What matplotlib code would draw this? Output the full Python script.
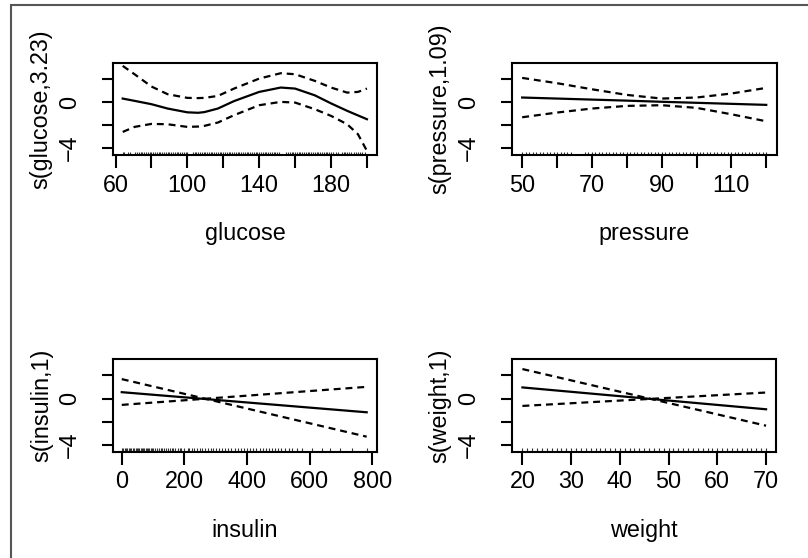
import matplotlib
matplotlib.use("Agg")
import matplotlib.pyplot as plt
from matplotlib.patches import Rectangle

plt.rcParams['font.family'] = ['Liberation Sans', 'DejaVu Sans']
plt.rcParams['lines.scale_dashes'] = False

# smooth of glucose: fit and +/- 2 se bands
glu_x = [64, 70.6, 80, 89, 100, 106, 109.5, 117, 126, 140, 152, 160, 171, 180, 189, 195, 200]
glu_fit = [0.32, 0.12, -0.17, -0.55, -0.88, -0.92, -0.86, -0.55, 0.1, 0.9, 1.28, 1.19, 0.6, -0.1, -0.75, -1.15, -1.48]
glu_hi = [3.17, 2.44, 1.37, 0.7, 0.38, 0.36, 0.38, 0.55, 1.19, 2.06, 2.53, 2.44, 1.86, 1.28, 0.84, 0.9, 1.19]
glu_lo = [-2.59, -2.15, -1.89, -1.92, -2.15, -2.12, -2.06, -1.77, -1.13, -0.26, 0.03, -0.03, -0.61, -1.19, -1.92, -2.79, -4.24]
glu_rug = [64, 65, 67, 68, 71, 72, 73, 74, 75, 76, 77, 78, 79, 80, 81, 82, 83, 84, 85, 86,
           87, 88, 89, 90, 91, 92, 93, 94, 95, 96, 97, 98, 99, 100, 103, 104, 105, 106, 107,
           108, 109, 110, 111, 112, 113, 114, 115, 116, 117, 118, 119, 120, 121, 122, 123,
           124, 125, 126, 127, 128, 129, 130, 131, 132, 133, 134, 135, 136, 137, 138, 139,
           140, 141, 142, 143, 144, 145, 146, 147, 148, 149, 150, 151, 155, 156, 157, 158,
           159, 160, 161, 162, 163, 164, 165, 166, 167, 168, 169, 170, 171, 172, 173, 174,
           175, 176, 177, 178, 179, 180, 181, 183, 184, 186, 187, 188, 189, 190, 191, 193,
           194, 195, 196, 197, 199]

# smooth of pressure
pre_x = [50, 60, 70, 80, 90, 100, 110, 120]
pre_fit = [0.41, 0.32, 0.23, 0.14, 0.04, -0.05, -0.14, -0.23]
pre_hi = [2.12, 1.66, 1.13, 0.64, 0.32, 0.41, 0.76, 1.25]
pre_lo = [-1.31, -0.9, -0.55, -0.32, -0.26, -0.49, -1.05, -1.66]
pre_rug = [50, 51, 52, 53, 54, 55, 56, 57, 58, 59, 60, 61, 62, 63, 64, 68, 69, 70, 71, 72,
           73, 74, 75, 76, 77, 78, 79, 80, 81, 82, 83, 84, 85, 86, 87, 88, 89, 90, 91, 92,
           93, 94, 95, 96, 97, 98, 99, 100, 101, 102, 103, 104, 105, 106, 107, 108, 109,
           110, 111, 112, 113, 114, 115, 116, 117, 118, 119, 120]

# linear term of insulin
ins_x = [0, 782]
ins_fit = [0.55, -1.19]
ins_hi = [1.68, -3.30]
ins_lo = [-0.55, 1.01]
ins_rug = [0, 5, 10, 14, 18, 22, 26, 30, 35, 40, 44, 48, 52, 56, 60, 64, 68, 72, 76, 80,
           84, 88, 92, 96, 100, 105, 112, 120, 125, 130, 135, 140, 148, 155, 160, 165, 170,
           180, 185, 190, 200, 210, 215, 225, 230, 240, 250, 255, 265, 275, 285, 290, 300,
           310, 320, 330, 340, 350, 360, 370, 380, 390, 400, 410, 420, 430, 440, 450, 460,
           470, 480, 490, 500, 510, 520, 535, 545, 560, 575, 606, 638, 665, 697, 734, 782]

# linear term of weight
wt_x = [20, 70]
wt_fit = [0.96, -0.93]
wt_hi = [2.55, -2.35]
wt_lo = [-0.64, 0.52]
wt_rug = [20, 21, 22, 23, 24, 25, 26, 27, 28, 29, 30, 31, 32, 33, 34, 35, 36, 37, 38, 39,
          40, 41, 42, 43, 44, 45, 46, 47, 48, 49, 50, 51, 52, 53, 54, 55, 56, 57, 58, 59,
          60, 61, 62, 63, 64, 65, 66, 67, 68, 69, 70]

W, H = 808, 558
FS = 16.8

fig = plt.figure(figsize=(W / 100, H / 100), dpi=100)
fig.add_artist(Rectangle((11 / W, -0.02), 1.0, 1 - 5 / H + 0.02, transform=fig.transFigure,
                         fill=False, ec='#555555', lw=1.5))


def panel(box, x, fit, hi, lo, rug, xlim, xticks, xtlabels, xlabel, ylabel):
    l, t, r, b = box
    ax = fig.add_axes([l / W, 1 - b / H, (r - l) / W, (b - t) / H])
    ax.plot(x, fit, color='black', lw=1.6)
    ax.plot(x, hi, color='black', lw=1.6, dashes=(5, 3.5))
    ax.plot(x, lo, color='black', lw=1.6, dashes=(5, 3.5))
    ax.vlines(rug, 0, 0.035, transform=ax.get_xaxis_transform(), color='#333333', lw=0.8)
    ax.set_xlim(*xlim)
    ax.set_ylim(-4.6, 3.42)
    ax.set_xticks(xticks)
    ax.set_xticklabels(xtlabels)
    ax.set_yticks([-4, -2, 0, 2])
    ax.set_yticklabels(['\u22124', '', '0', ''])
    for lab in ax.get_yticklabels():
        lab.set_rotation(90)
        lab.set_va('center')
    for s in ax.spines.values():
        s.set_linewidth(1.5)
    ax.tick_params(axis='x', length=9.4, width=1.5, labelsize=FS, pad=4)
    ax.tick_params(axis='y', length=8, width=1.5, labelsize=FS, pad=15)
    ax.set_xlabel(xlabel, fontsize=FS, va='baseline')
    ax.xaxis.set_label_coords(0.5, -0.92)
    ax.set_ylabel(ylabel, fontsize=FS, va='center', ha='center')
    ax.yaxis.set_label_coords(-0.272, 0.5)
    return ax


panel((113, 63, 377, 155), glu_x, glu_fit, glu_hi, glu_lo, glu_rug, (58.6, 205.6),
      [60, 80, 100, 120, 140, 160, 180, 200], ['60', '', '100', '', '140', '', '180', ''],
      'glucose', 's(glucose,3.23)')
panel((511.7, 63, 776.7, 155), pre_x, pre_fit, pre_hi, pre_lo, pre_rug, (47, 123),
      [50, 60, 70, 80, 90, 100, 110, 120], ['50', '', '70', '', '90', '', '110', ''],
      'pressure', 's(pressure,1.09)')
panel((113.3, 359, 376.7, 451.7), ins_x, ins_fit, ins_hi, ins_lo, ins_rug, (-27, 814),
      [0, 200, 400, 600, 800], ['0', '200', '400', '600', '800'],
      'insulin', 's(insulin,1)')
panel((511.7, 359, 776.3, 451.7), wt_x, wt_fit, wt_hi, wt_lo, wt_rug, (17.8, 72.1),
      [20, 30, 40, 50, 60, 70], ['20', '30', '40', '50', '60', '70'],
      'weight', 's(weight,1)')

fig.savefig('out.png', dpi=100)
